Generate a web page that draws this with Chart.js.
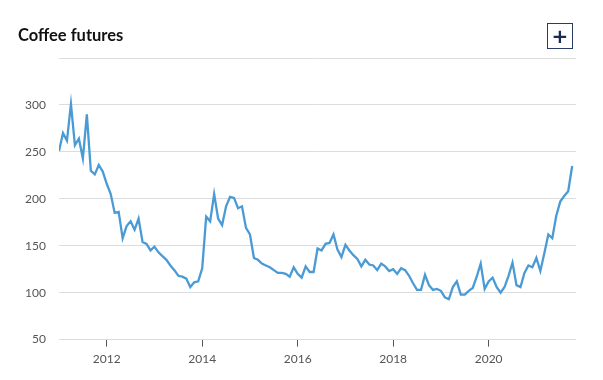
<!DOCTYPE html>
<html>
<head>
<meta charset="utf-8">
<script src="https://cdn.jsdelivr.net/npm/chart.js@4"></script>
<style>
  html, body { margin: 0; padding: 0; background: #fff; }
  #wrap { position: relative; width: 603px; height: 380px; }
  #title { position: absolute; left: 18px; top: 25px; font: bold 16.5px "Lato", "Open Sans", sans-serif; color: #111; }
  #plus { position: absolute; left: 547px; top: 23px; width: 24px; height: 24px; border: 1px solid #2b3a67;
          color: #1c2a57; font: bold 20px/24px "DejaVu Sans", sans-serif; text-align: center; box-sizing: content-box; }
</style>
</head>
<body>
<div id="wrap">
  <canvas id="chart" width="603" height="380"></canvas>
  <div id="title">Coffee futures</div>
  <div id="plus">+</div>
</div>
<script>
// monthly, Jan 2011 .. Oct 2021
const startYear = 2011;
const prices = [
  251, 270, 262, 301, 257, 264, 243, 290, 230, 226, 236, 229,
  216, 205, 185, 186, 158, 171, 176, 167, 179, 154, 152, 145,
  149, 143, 139, 135, 129, 124, 118, 117, 115, 106, 111, 112,
  126, 181, 176, 205, 179, 172, 192, 202, 201, 190, 192, 169,
  162, 137, 135, 131, 129, 127, 124, 121, 121, 120, 117, 127,
  120, 116, 128, 122, 122, 147, 145, 152, 153, 162, 146, 138,
  151, 145, 140, 136, 128, 135, 130, 129, 124, 131, 128, 123,
  125, 120, 126, 124, 118, 110, 103, 103, 119, 108, 103, 104,
  102, 95, 93, 106, 112, 98, 98, 102, 105, 117, 131, 104,
  112, 116, 106, 100, 106, 118, 132, 108, 106, 121, 129, 127,
  137, 123, 142, 162, 158, 182, 197, 203, 208, 235
];
const yearTicks = [2012, 2014, 2016, 2018, 2020];
const yTicks = [50, 100, 150, 200, 250, 300, 350];

const points = prices.map((v, i) => ({ x: startYear + i / 12, y: v }));

new Chart(document.getElementById('chart').getContext('2d'), {
  type: 'line',
  data: {
    datasets: [{
      label: 'Coffee futures',
      data: points,
      borderColor: '#4a9bd5',
      borderWidth: 2.3,
      pointRadius: 0,
      tension: 0,
      fill: false,
    }],
  },
  options: {
    responsive: false,
    animation: false,
    layout: { padding: { left: 0, right: 27, top: 58, bottom: 9 } },
    plugins: { legend: { display: false }, tooltip: { enabled: false } },
    scales: {
      x: {
        type: 'linear',
        min: 2011,
        max: 2021.83,
        afterBuildTicks: scale => { scale.ticks = yearTicks.map(v => ({ value: v })); },
        grid: { drawOnChartArea: false, drawTicks: true, tickLength: 7, color: '#555', tickWidth: 1 },
        border: { display: false },
        ticks: {
          color: '#555', padding: 5, maxRotation: 0,
          font: { family: 'Lato, "Open Sans", sans-serif', size: 12 },
          callback: v => String(v),
        },
      },
      y: {
        min: 50,
        max: 350,
        afterBuildTicks: scale => { scale.ticks = yTicks.map(v => ({ value: v })); },
        afterFit: scale => { scale.width = 59; },
        grid: { color: '#dcdcdc', drawTicks: false, lineWidth: 1 },
        border: { display: false },
        ticks: {
          color: '#555', padding: 13,
          font: { family: 'Lato, "Open Sans", sans-serif', size: 12 },
          callback: v => (v === 350 ? '' : v),
        },
      },
    },
  },
});
</script>
</body>
</html>
